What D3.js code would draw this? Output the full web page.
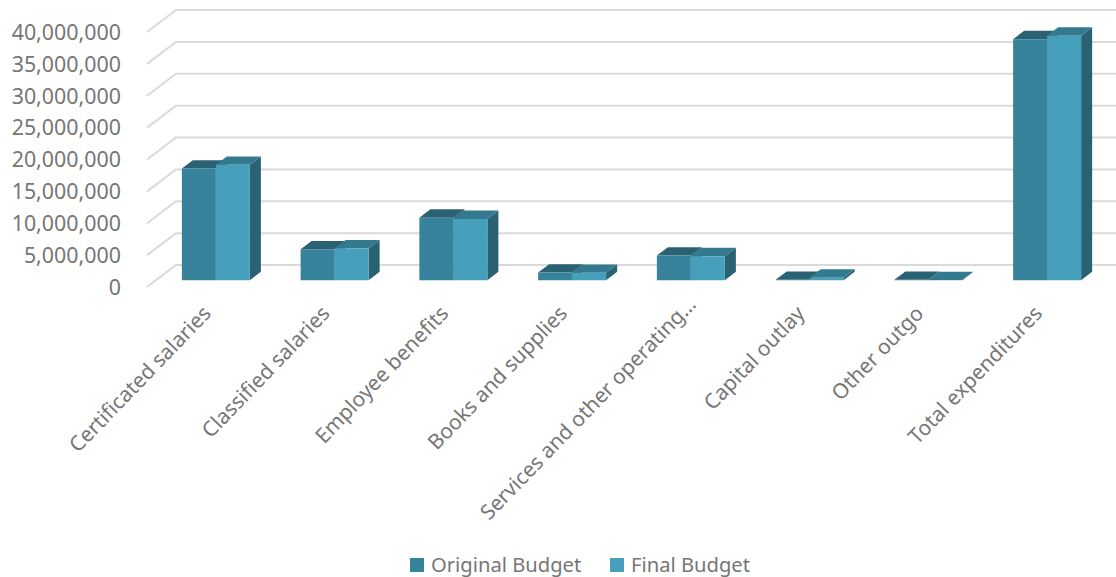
<!DOCTYPE html>
<html>
<head>
<meta charset="utf-8">
<script src="https://cdn.jsdelivr.net/npm/d3@7/dist/d3.min.js"></script>
<style>
  html, body { margin: 0; padding: 0; background: #fff; }
  svg { display: block; font-family: "Noto Sans", sans-serif; }
</style>
</head>
<body>
<svg id="chart" width="1116" height="577"></svg>
<script>
const categories = [
  "Certificated salaries", "Classified salaries", "Employee benefits",
  "Books and supplies", "Services and other operating…",
  "Capital outlay", "Other outgo", "Total expenditures"
];
const seriesNames = ["Original Budget", "Final Budget"];
const originalBudget = [17500000, 4850000, 9800000, 1200000, 3870000, 50000, 50000, 37800000];
const finalBudget = [18100000, 5000000, 9600000, 1150000, 3760000, 400000, 30000, 38350000];
const yTicks = [0, 5000000, 10000000, 15000000, 20000000, 25000000, 30000000, 35000000, 40000000];

const frontColors = ["#38839c", "#47a0bb"];
const topColors = ["#2b6273", "#347a8e"];
const sideColor = "#2b6273";
const gridColor = "#dadada";
const textColor = "#767676";

// Oblique projection: depth 0 is the front of the floor, depth 1 the back wall.
const depthX = 29, depthY = -22;
const barFront = 0.31, barBack = 0.69;

const svg = d3.select("#chart");
const y = d3.scaleLinear().domain([0, 40000000]).range([287, 32]);
const x = d3.scaleBand().domain(categories).range([147, 1097]);
const inner = d3.scaleBand().domain(seriesNames).range([0, 68]);
const barOffset = (x.bandwidth() - 68) / 2 + 0.5;

const project = (px, py, depth) => [px + depth * depthX, py + depth * depthY];
const poly = pts => pts.map(p => p.join(",")).join(" ");

// Floor and wall gridlines, each folded at the back corner.
svg.append("g").selectAll("polyline").data(yTicks).join("polyline")
  .attr("fill", "none")
  .attr("stroke", gridColor)
  .attr("stroke-width", 2)
  .attr("points", d => poly([
    project(x.range()[0], y(d), 0),
    project(x.range()[0], y(d), 1),
    project(x.range()[1] + 40, y(d), 1)
  ]));

// Value axis labels, lined up with the front ends of the gridlines.
const yAxis = svg.append("g")
  .attr("transform", "translate(126,0.5)")
  .call(d3.axisLeft(y).tickValues(yTicks).tickFormat(d3.format(",")).tickSize(0));
yAxis.select(".domain").remove();
yAxis.selectAll("text")
  .attr("x", -5)
  .attr("fill", textColor)
  .attr("font-size", 21.4)
  .attr("font-family", "'Noto Sans', sans-serif");

// Bars: each one is a right face, a top face and a front face.
const rows = categories.map((c, i) => [
  { c, s: 0, v: originalBudget[i] },
  { c, s: 1, v: finalBudget[i] }
]).flat();

const bars = svg.append("g").selectAll("g").data(rows).join("g");

const left = d => x(d.c) + barOffset + inner(seriesNames[d.s]);
const right = d => left(d) + inner.bandwidth();

bars.append("polygon")
  .attr("fill", sideColor)
  .attr("points", d => poly([
    project(right(d), y(d.v), barFront),
    project(right(d), y(d.v), barBack),
    project(right(d), y(0), barBack),
    project(right(d), y(0), barFront)
  ]));
bars.append("polygon")
  .attr("fill", d => topColors[d.s])
  .attr("points", d => poly([
    project(left(d), y(d.v), barFront),
    project(left(d), y(d.v), barBack),
    project(right(d), y(d.v), barBack),
    project(right(d), y(d.v), barFront)
  ]));
bars.append("polygon")
  .attr("fill", d => frontColors[d.s])
  .attr("points", d => poly([
    project(left(d), y(d.v), barFront),
    project(right(d), y(d.v), barFront),
    project(right(d), y(0), barFront),
    project(left(d), y(0), barFront)
  ]));

// Category labels, rotated and ending under their bars.
// A truncated label sits a little further along its own slope.
const xAxis = svg.append("g")
  .attr("transform", "translate(1,310)")
  .call(d3.axisBottom(x).tickSize(0));
xAxis.select(".domain").remove();
xAxis.selectAll("text")
  .attr("fill", textColor)
  .attr("font-size", 20.9)
  .attr("font-family", "'Noto Sans', sans-serif")
  .attr("text-anchor", "end")
  .attr("dy", "0.32em")
  .attr("y", 0)
  .attr("transform", d => d.endsWith("…")
    ? "translate(10,-9) rotate(-46)"
    : "rotate(-46)");

// Legend.
const legendX = [410, 610];
const legend = svg.append("g").selectAll("g").data(seriesNames).join("g")
  .attr("transform", (d, i) => `translate(${legendX[i]},558)`);
legend.append("rect")
  .attr("width", 14).attr("height", 14)
  .attr("fill", (d, i) => frontColors[i]);
legend.append("text")
  .attr("x", 21).attr("y", 7).attr("dy", "0.35em")
  .attr("fill", textColor)
  .attr("font-size", 20.2)
  .text(d => d);
</script>
</body>
</html>
